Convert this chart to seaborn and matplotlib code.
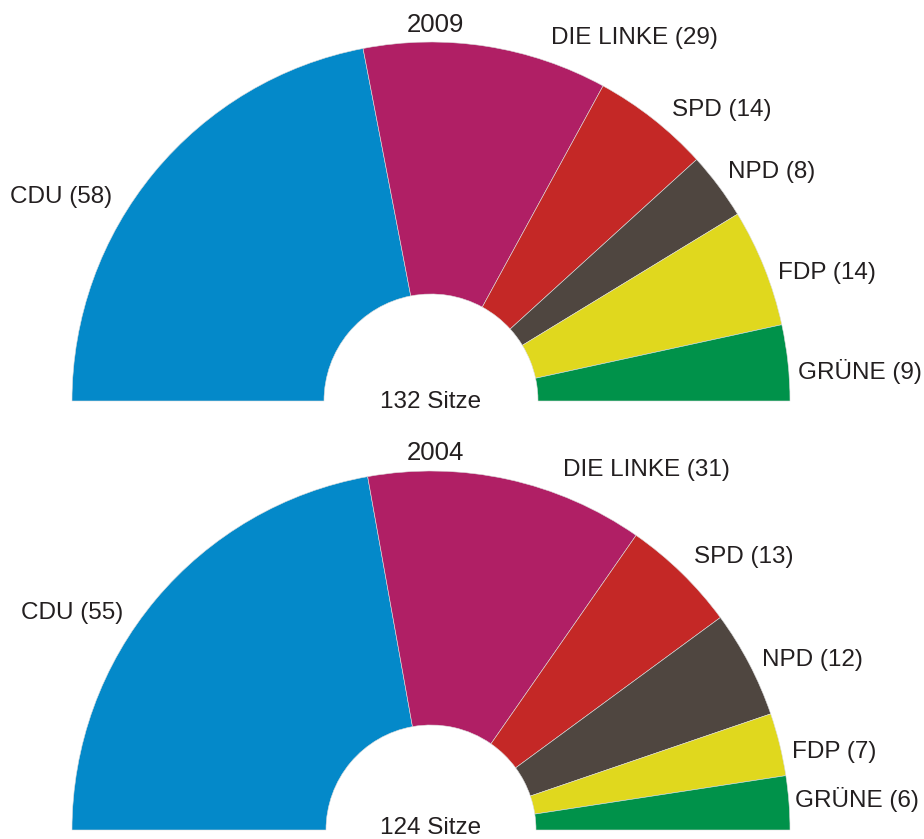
import matplotlib
matplotlib.use("Agg")
import matplotlib.pyplot as plt
import seaborn as sns

sns.set_theme(style="white")
plt.rcParams['font.family'] = ['Liberation Sans', 'DejaVu Sans']

# seat data
parties = ['CDU', 'DIE LINKE', 'SPD', 'NPD', 'FDP', 'GRÜNE']
seats_2009 = [58, 29, 14, 8, 14, 9]
seats_2004 = [55, 31, 13, 12, 7, 6]
years = ['2009', '2004']
party_colors = ['#0489C9', '#B01F65', '#C42826', '#4F4640', '#E0D81E', '#00924A']

# label centres in pixel coords (x, y from top)
label_pos_2009 = [(61, 197), (634, 38), (722, 110), (772, 172), (827, 273), (860, 372)]
label_pos_2004 = [(72, 613), (646, 470), (744, 557), (812, 660), (834, 752), (857, 800)]

W, H = 924, 839
fig = plt.figure(figsize=(W / 100, H / 100), dpi=100)
ax = fig.add_axes([0, 0, 1, 1])

palette = sns.color_palette(party_colors)
TXT = '#231F20'


def half_donut(ax, seats, cy, r_out, r_in):
    total = sum(seats)
    vals = seats + [total]
    cols = list(palette) + [(1, 1, 1, 0)]
    ax.pie(vals, colors=cols, startangle=180, counterclock=False,
           center=(431, H - cy), radius=r_out, frame=True,
           wedgeprops=dict(width=r_out - r_in, linewidth=0.4, edgecolor='#dddddd'))
    # hide the dummy wedge outline
    ax.patches[-1].set_edgecolor('none')


def labels(ax, seats, pos, year, ypos, sitze_y):
    for p, s, (x, y) in zip(parties, seats, pos):
        ax.text(x, H - y, f'{p} ({s})', ha='center', va='center',
                fontsize=17.5, color=TXT)
    ax.text(435, H - ypos, year, ha='center', va='center', fontsize=18.5, color=TXT)
    ax.text(431, H - sitze_y, f'{sum(seats)} Sitze', ha='center', va='center',
            fontsize=17.5, color=TXT)


half_donut(ax, seats_2009, 401, 359, 107)
half_donut(ax, seats_2004, 830, 359, 105)
labels(ax, seats_2009, label_pos_2009, years[0], 25, 402)
labels(ax, seats_2004, label_pos_2004, years[1], 453, 828)

ax.set_xlim(0, W)
ax.set_ylim(0, H)
ax.set_aspect('equal')
ax.axis('off')

fig.savefig('out.png', dpi=100, facecolor='white')
